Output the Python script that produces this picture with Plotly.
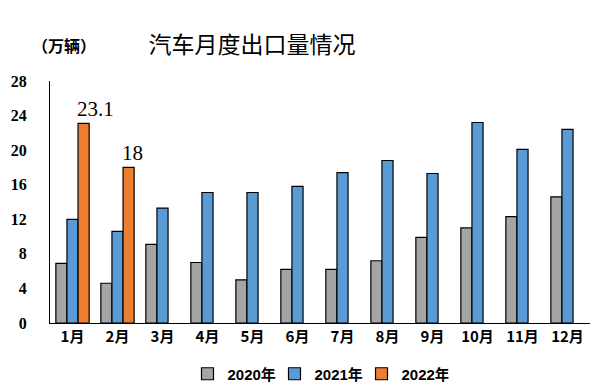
import plotly.graph_objects as go

months = ["1月", "2月", "3月", "4月", "5月", "6月", "7月", "8月", "9月", "10月", "11月", "12月"]
v2020 = [6.9, 4.6, 9.1, 7.0, 5.0, 6.2, 6.2, 7.2, 9.9, 11.0, 12.3, 14.6]
v2021 = [12.0, 10.6, 13.3, 15.1, 15.1, 15.8, 17.4, 18.8, 17.3, 23.2, 20.1, 22.4]
v2022 = [23.1, 18.0]
months2022 = months[:2]
labels2022 = ["23.1", "18"]
yticks = [0, 4, 8, 12, 16, 20, 24, 28]

# page body has an 8px margin; layout coordinates compensate for it
OFF = 8
W, H = 612, 387
L, T, R, B = 50 - OFF, 81 - OFF, W - (590 - OFF), H - (323 - OFF)

fig = go.Figure()
line = dict(color="#000000", width=1.2)
fig.add_trace(go.Bar(x=months, y=v2020, name="2020年", marker=dict(color="#A5A5A5", line=line)))
fig.add_trace(go.Bar(x=months, y=v2021, name="2021年", marker=dict(color="#5B9BD5", line=line)))
fig.add_trace(go.Bar(x=months2022, y=v2022, name="2022年", marker=dict(color="#ED7D31", line=line)))

for m, v, t in zip(months2022, v2022, labels2022):
    fig.add_annotation(x=m, y=v, text=t, showarrow=False, xanchor="left", xshift=2, yshift=14,
                       font=dict(family="Liberation Serif, DejaVu Serif", size=21, color="#000"))

fig.add_annotation(xref="paper", yref="paper", x=(64 - 50) / 540, y=(323 - 45) / 242, text="<b>（万辆）</b>",
                   showarrow=False, xanchor="center", yanchor="middle",
                   font=dict(family="Noto Sans CJK SC", size=16, color="#000"))

fig.update_layout(
    width=W, height=H,
    margin=dict(l=L, r=R, t=T, b=B, autoexpand=False),
    paper_bgcolor="white", plot_bgcolor="white",
    barmode="group", bargap=0.26, bargroupgap=0,
    title=dict(text="汽车月度出口量情况", x=(252 - OFF) / W, xanchor="center", xref="container",
               y=1 - (45 - OFF) / H, yanchor="middle", yref="container",
               font=dict(family="Noto Sans CJK SC", size=23, color="#000")),
    showlegend=True,
    legend=dict(orientation="h", x=(318 - 50) / 540, xanchor="center", y=1 - (374 - OFF) / H,
                yanchor="middle", yref="container",
                font=dict(family="Liberation Sans, Noto Sans CJK SC", size=15, color="#000", weight="bold"),
                itemwidth=30, traceorder="normal", entrywidth=42, entrywidthmode="pixels",
                tracegroupgap=0),
    xaxis=dict(showline=True, linecolor="#000", linewidth=1.2, showgrid=False, automargin=False,
               tickfont=dict(family="Noto Sans CJK SC", size=15, color="#000", weight="bold"), ticks=""),
    yaxis=dict(range=[0, 28], tickvals=yticks, showline=True, linecolor="#000", linewidth=1.2,
               showgrid=False, zeroline=False, ticks="", ticklabelstandoff=19, automargin=False,
               tickfont=dict(family="Liberation Serif, DejaVu Serif", size=16, color="#000", weight="bold")),
)

fig.write_html("out.html")
